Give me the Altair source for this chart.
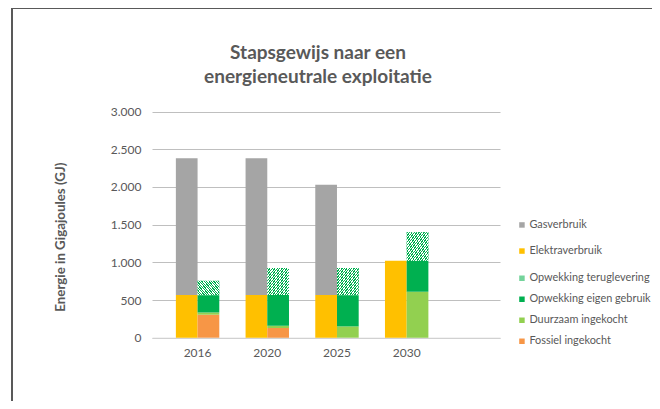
import altair as alt
import pandas as pd

# ---- data ----
jaren = ["2016", "2020", "2025", "2030"]
gasverbruik = [1815, 1815, 1465, 0]
elektraverbruik = [565, 565, 565, 1020]
fossiel_ingekocht = [305, 130, 0, 0]
duurzaam_ingekocht = [30, 30, 150, 610]
opwekking_eigen_gebruik = [230, 405, 415, 410]
opwekking_teruglevering = [190, 360, 360, 380]

kanten = ["Verbruik", "Opwekking"]
y_ticks = [0, 500, 1000, 1500, 2000, 2500, 3000]

verbruik_namen = ["Gasverbruik", "Elektraverbruik"]
verbruik_kleuren = ["#A5A5A5", "#FFC000"]
opwekking_namen = ["Opwekking teruglevering", "Opwekking eigen gebruik",
                   "Duurzaam ingekocht", "Fossiel ingekocht"]
opwekking_kleuren = ["#74D39B", "#00B050", "#92D050", "#F79646"]

rows = []
for i, j in enumerate(jaren):
    # stacking order bottom -> top
    rows.append(dict(jaar=j, kant="Verbruik", reeks="Elektraverbruik", volgorde=1, waarde=elektraverbruik[i]))
    rows.append(dict(jaar=j, kant="Verbruik", reeks="Gasverbruik", volgorde=2, waarde=gasverbruik[i]))
    rows.append(dict(jaar=j, kant="Opwekking", reeks="Fossiel ingekocht", volgorde=1, waarde=fossiel_ingekocht[i]))
    rows.append(dict(jaar=j, kant="Opwekking", reeks="Duurzaam ingekocht", volgorde=2, waarde=duurzaam_ingekocht[i]))
    rows.append(dict(jaar=j, kant="Opwekking", reeks="Opwekking eigen gebruik", volgorde=3, waarde=opwekking_eigen_gebruik[i]))
    rows.append(dict(jaar=j, kant="Opwekking", reeks="Opwekking teruglevering", volgorde=4, waarde=opwekking_teruglevering[i]))
df = pd.DataFrame(rows)

FONT = "Lato"
GREY = "#595959"

# hatch pattern approximated by a striped linear gradient
N = 18
stops = []
for k in range(N):
    a, b, c = k / N, (k + 0.5) / N, (k + 1) / N
    stops += [
        {"offset": a, "color": "#00B050"},
        {"offset": b, "color": "#00B050"},
        {"offset": b, "color": "#FFFFFF"},
        {"offset": c, "color": "#FFFFFF"},
    ]
hatch = {"gradient": "linear", "x1": 0, "y1": 0, "x2": 1, "y2": 1, "stops": stops}

x_enc = alt.X(
    "jaar:N",
    scale=alt.Scale(domain=jaren, range=[140, 488], paddingInner=0.377,
                    paddingOuter=0.685, align=0.25),
    axis=alt.Axis(title=None, offset=-130.3, domain=True, domainColor="#D9D9D9",
                  domainWidth=1, ticks=False, labelPadding=10, labelAngle=0,
                  labelFont=FONT, labelFontSize=12, labelColor=GREY, grid=False),
)
xoff = alt.XOffset("kant:N", scale=alt.Scale(domain=kanten, paddingInner=0, paddingOuter=0))
y_enc = alt.Y(
    "y0:Q",
    scale=alt.Scale(domain=[0, 3000], range=[329.7, 103.6], nice=False),
    axis=alt.Axis(title="Energie in Gigajoules (GJ)", offset=-140, values=y_ticks,
                  labelExpr="replace(format(datum.value, ','), ',', '.')",
                  grid=True, gridColor="#BFBFBF", gridWidth=1, ticks=False, domain=False,
                  labelPadding=11, labelFont=FONT, labelFontSize=12, labelColor=GREY,
                  titleFont=FONT, titleFontSize=13.3, titleFontWeight="bold", titleColor=GREY,
                  titleX=-92, titleY=228.7, titleAngle=270, titleAlign="center",
                  titleBaseline="middle"),
)
y2_enc = alt.Y2("y1:Q")

base = alt.Chart(df).transform_stack(
    stack="waarde", groupby=["jaar", "kant"], as_=["y0", "y1"],
    sort=[alt.SortField("volgorde", order="ascending")],
)

verbruik = base.transform_filter(alt.datum.kant == "Verbruik").mark_bar(strokeWidth=0).encode(
    x=x_enc, xOffset=xoff, y=y_enc, y2=y2_enc,
    color=alt.Color("reeks:N",
                    scale=alt.Scale(domain=verbruik_namen, range=verbruik_kleuren),
                    legend=alt.Legend(title=None, orient="none", legendX=504.5, legendY=211.5,
                                      rowPadding=14.1)),
)

opwekking = base.transform_filter(alt.datum.kant == "Opwekking").mark_bar(strokeWidth=0).encode(
    x=x_enc, xOffset=xoff, y=y_enc, y2=y2_enc,
    fill=alt.Fill("reeks:N",
                  scale=alt.Scale(domain=opwekking_namen, range=opwekking_kleuren),
                  legend=alt.Legend(title=None, orient="none", legendX=504.5, legendY=264.8,
                                    rowPadding=9.0)),
)

terug = base.transform_filter(alt.datum.reeks == "Opwekking teruglevering").mark_bar(
    fill=hatch, strokeWidth=0
).encode(x=x_enc, xOffset=xoff, y=y_enc, y2=y2_enc)

chart = alt.layer(verbruik, opwekking, terug).properties(
    width=680,
    height=460,
    autosize=alt.AutoSizeParams(type="none"),
    padding={"left": 4, "top": 0, "right": -40, "bottom": -67},
    title=alt.TitleParams(
        text=["Stapsgewijs naar een", "energieneutrale exploitatie"],
        font=FONT, fontSize=19, fontWeight="bold", color=GREY,
        frame="group", anchor="middle", dx=-34, offset=-98, lineHeight=24,
        baseline="bottom",
    ),
).configure(background="white").configure_view(
    stroke="#595959", strokeWidth=2
).configure_legend(
    labelFont=FONT, labelFontSize=10.9, labelColor=GREY, symbolType="square",
    symbolSize=30, padding=0, labelOffset=2, symbolStrokeWidth=0, labelLimit=200,
)

chart.save("out.html", embed_options={"renderer": "svg", "actions": False})
